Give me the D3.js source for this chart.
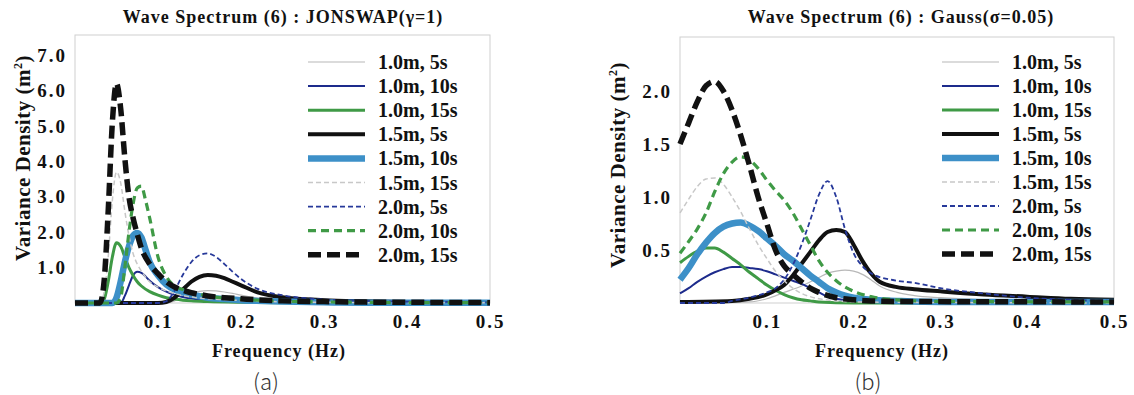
<!DOCTYPE html>
<html>
<head>
<meta charset="utf-8">
<script src="https://cdn.jsdelivr.net/npm/d3@7"></script>
<style>
  html, body { margin: 0; padding: 0; background: #fff; }
  svg { display: block; }
</style>
</head>
<body>
<svg id="chart" width="1134" height="395"></svg>
<script>
// Series labels (wave height, period)
const seriesLabels = ["1.0m, 5s", "1.0m, 10s", "1.0m, 15s", "1.5m, 5s", "1.5m, 10s",
                      "1.5m, 15s", "2.0m, 5s", "2.0m, 10s", "2.0m, 15s"];

// Panel titles and tick values
const titleA = "Wave Spectrum (6) : JONSWAP(\u03b3=1)";
const titleB = "Wave Spectrum (6) : Gauss(\u03c3=0.05)";
const xTicks = [0.1, 0.2, 0.3, 0.4, 0.5];
const yTicksA = [1.0, 2.0, 3.0, 4.0, 5.0, 6.0, 7.0];
const yTicksB = [0.5, 1.0, 1.5, 2.0];

// JONSWAP spectra: [frequency Hz, variance density m^2/Hz]
const jon_10_5  = [[0,0],[0.11,0],[0.12,0.06],[0.13,0.17],[0.14,0.27],[0.15,0.33],[0.16,0.35],[0.17,0.34],[0.18,0.31],[0.19,0.27],[0.2,0.22],[0.22,0.14],[0.25,0.07],[0.3,0.04],[0.35,0.02],[0.4,0.01],[0.5,0.01]];
const jon_10_10 = [[0,0],[0.055,0],[0.06,0.2],[0.065,0.5],[0.07,0.78],[0.075,0.88],[0.08,0.85],[0.085,0.75],[0.09,0.63],[0.1,0.45],[0.11,0.32],[0.12,0.23],[0.13,0.17],[0.14,0.13],[0.15,0.1],[0.16,0.08],[0.18,0.06],[0.2,0.04],[0.25,0.02],[0.3,0.01],[0.5,0.005]];
const jon_10_15 = [[0,0],[0.03,0],[0.035,0.1],[0.04,0.6],[0.045,1.3],[0.05,1.7],[0.055,1.6],[0.06,1.3],[0.065,1.0],[0.07,0.78],[0.075,0.6],[0.08,0.48],[0.09,0.32],[0.1,0.22],[0.11,0.15],[0.12,0.11],[0.13,0.08],[0.14,0.06],[0.16,0.04],[0.2,0.02],[0.25,0.01],[0.5,0]];
const jon_15_5  = [[0,0],[0.1,0],[0.11,0.03],[0.12,0.15],[0.13,0.38],[0.14,0.6],[0.15,0.74],[0.16,0.79],[0.17,0.77],[0.18,0.7],[0.19,0.6],[0.2,0.5],[0.22,0.3],[0.25,0.16],[0.3,0.08],[0.35,0.05],[0.4,0.03],[0.45,0.02],[0.5,0.01]];
const jon_15_10 = [[0,0],[0.045,0],[0.05,0.15],[0.055,0.6],[0.06,1.15],[0.065,1.6],[0.07,1.9],[0.075,1.98],[0.08,1.85],[0.085,1.5],[0.09,1.15],[0.1,0.78],[0.11,0.52],[0.12,0.38],[0.13,0.3],[0.14,0.24],[0.15,0.19],[0.16,0.15],[0.18,0.11],[0.2,0.08],[0.22,0.06],[0.25,0.04],[0.3,0.02],[0.35,0.01],[0.5,0.01]];
const jon_15_15 = [[0,0],[0.03,0],[0.035,0.3],[0.04,1.3],[0.045,2.9],[0.05,3.7],[0.055,3.4],[0.06,2.6],[0.065,1.9],[0.07,1.4],[0.075,1.1],[0.08,0.9],[0.09,0.6],[0.1,0.45],[0.11,0.34],[0.12,0.27],[0.13,0.21],[0.14,0.17],[0.15,0.14],[0.16,0.12],[0.18,0.09],[0.2,0.07],[0.22,0.05],[0.25,0.035],[0.3,0.02],[0.35,0.01],[0.5,0.01]];
const jon_20_5  = [[0,0],[0.1,0],[0.11,0.05],[0.12,0.35],[0.13,0.8],[0.14,1.15],[0.15,1.35],[0.16,1.4],[0.17,1.3],[0.18,1.1],[0.19,0.88],[0.2,0.68],[0.22,0.4],[0.25,0.22],[0.3,0.1],[0.35,0.06],[0.4,0.04],[0.45,0.03],[0.5,0.02]];
const jon_20_10 = [[0,0],[0.05,0],[0.055,0.15],[0.06,1.0],[0.065,2.0],[0.07,2.8],[0.075,3.25],[0.08,3.3],[0.085,2.9],[0.09,2.4],[0.1,1.3],[0.11,0.75],[0.12,0.48],[0.13,0.38],[0.14,0.3],[0.15,0.25],[0.16,0.2],[0.18,0.14],[0.2,0.1],[0.22,0.08],[0.25,0.05],[0.3,0.03],[0.35,0.02],[0.4,0.01],[0.5,0.01]];
const jon_20_15 = [[0,0],[0.03,0],[0.035,0.6],[0.04,2.6],[0.045,5.1],[0.05,6.2],[0.055,5.5],[0.06,4.1],[0.065,3.0],[0.07,2.4],[0.075,1.95],[0.08,1.55],[0.09,1.1],[0.1,0.83],[0.11,0.6],[0.12,0.45],[0.13,0.36],[0.14,0.29],[0.15,0.24],[0.16,0.2],[0.18,0.15],[0.2,0.12],[0.22,0.09],[0.25,0.06],[0.3,0.04],[0.35,0.025],[0.4,0.02],[0.5,0.01]];

// Gaussian spectra: [frequency Hz, variance density m^2/Hz]
const gau_10_5  = [[0,0],[0.08,0.01],[0.1,0.04],[0.12,0.1],[0.14,0.16],[0.16,0.24],[0.17,0.28],[0.18,0.3],[0.19,0.31],[0.2,0.3],[0.21,0.27],[0.22,0.22],[0.23,0.16],[0.25,0.1],[0.27,0.07],[0.3,0.05],[0.35,0.03],[0.4,0.02],[0.5,0.01]];
const gau_10_10 = [[0,0.09],[0.01,0.14],[0.02,0.2],[0.03,0.25],[0.04,0.29],[0.05,0.32],[0.06,0.34],[0.07,0.34],[0.08,0.33],[0.09,0.32],[0.1,0.3],[0.11,0.27],[0.12,0.24],[0.13,0.21],[0.14,0.18],[0.15,0.14],[0.16,0.1],[0.17,0.06],[0.18,0.04],[0.2,0.02],[0.22,0.01],[0.5,0]];
const gau_10_15 = [[0,0.38],[0.01,0.44],[0.02,0.49],[0.03,0.52],[0.04,0.52],[0.05,0.48],[0.06,0.42],[0.07,0.36],[0.08,0.29],[0.09,0.23],[0.1,0.17],[0.11,0.12],[0.12,0.08],[0.13,0.05],[0.14,0.03],[0.15,0.02],[0.16,0.01],[0.2,0],[0.5,0]];
const gau_15_5  = [[0,0.01],[0.06,0.02],[0.08,0.04],[0.1,0.08],[0.11,0.12],[0.12,0.17],[0.13,0.26],[0.14,0.37],[0.15,0.48],[0.16,0.59],[0.17,0.67],[0.18,0.69],[0.19,0.67],[0.2,0.55],[0.21,0.4],[0.22,0.28],[0.23,0.2],[0.25,0.15],[0.27,0.13],[0.3,0.11],[0.35,0.08],[0.4,0.06],[0.45,0.04],[0.5,0.03]];
const gau_15_10 = [[0,0.22],[0.01,0.33],[0.02,0.46],[0.03,0.57],[0.04,0.66],[0.05,0.72],[0.06,0.75],[0.07,0.76],[0.08,0.73],[0.09,0.68],[0.1,0.61],[0.11,0.54],[0.12,0.46],[0.13,0.4],[0.14,0.33],[0.15,0.26],[0.16,0.2],[0.17,0.14],[0.18,0.1],[0.19,0.07],[0.2,0.05],[0.22,0.03],[0.25,0.02],[0.3,0.01],[0.5,0.01]];
const gau_15_15 = [[0,0.85],[0.01,0.98],[0.02,1.1],[0.03,1.17],[0.04,1.18],[0.05,1.12],[0.06,1.0],[0.07,0.86],[0.08,0.7],[0.09,0.55],[0.1,0.42],[0.11,0.3],[0.12,0.21],[0.13,0.14],[0.14,0.09],[0.15,0.06],[0.16,0.04],[0.18,0.02],[0.2,0.01],[0.5,0]];
const gau_20_5  = [[0,0],[0.05,0],[0.06,0.02],[0.08,0.05],[0.1,0.1],[0.11,0.14],[0.12,0.22],[0.13,0.36],[0.14,0.55],[0.15,0.78],[0.16,1.02],[0.17,1.15],[0.18,1.0],[0.19,0.7],[0.2,0.47],[0.21,0.35],[0.22,0.28],[0.25,0.21],[0.27,0.19],[0.3,0.14],[0.35,0.09],[0.4,0.05],[0.45,0.03],[0.5,0.02]];
const gau_20_10 = [[0,0.47],[0.01,0.58],[0.02,0.7],[0.03,0.85],[0.04,1.05],[0.05,1.22],[0.06,1.33],[0.07,1.38],[0.08,1.35],[0.09,1.27],[0.1,1.16],[0.11,1.06],[0.12,0.97],[0.13,0.85],[0.14,0.7],[0.15,0.55],[0.16,0.4],[0.17,0.29],[0.18,0.21],[0.2,0.11],[0.22,0.06],[0.25,0.03],[0.3,0.015],[0.5,0.01]];
const gau_20_15 = [[0,1.5],[0.01,1.7],[0.02,1.9],[0.03,2.05],[0.04,2.09],[0.05,2.0],[0.06,1.82],[0.07,1.58],[0.08,1.3],[0.09,1.0],[0.1,0.75],[0.11,0.5],[0.12,0.35],[0.13,0.27],[0.14,0.2],[0.15,0.14],[0.16,0.1],[0.18,0.05],[0.2,0.03],[0.22,0.02],[0.25,0.015],[0.5,0.01]];

const jonswapSeries = [jon_10_5, jon_10_10, jon_10_15, jon_15_5, jon_15_10, jon_15_15, jon_20_5, jon_20_10, jon_20_15];
const gaussSeries   = [gau_10_5, gau_10_10, gau_10_15, gau_15_5, gau_15_10, gau_15_15, gau_20_5, gau_20_10, gau_20_15];

// Line style for each series, in legend order
const styles = [
  { color: "#b8b8b8", width: 1.2, dash: null },
  { color: "#1d2b8c", width: 2,   dash: null },
  { color: "#3f9a46", width: 3,   dash: null },
  { color: "#111111", width: 4,   dash: null },
  { color: "#3d90c8", width: 6.5, dash: null },
  { color: "#c8c8c8", width: 1.5, dash: "5,3" },
  { color: "#27399a", width: 1.8, dash: "5,3" },
  { color: "#3f9a46", width: 3.2, dash: "8,5" },
  { color: "#111111", width: 5.5, dash: "13,6" }
];

const SERIF = "'Liberation Serif', 'Times New Roman', 'DejaVu Serif', serif";

const svg = d3.select("#chart");

function serifText(sel, size, spacing) {
  return sel.attr("font-family", SERIF).attr("font-weight", "bold")
    .attr("font-size", size).attr("letter-spacing", spacing || 0).attr("fill", "#111");
}

function drawPanel(opt) {
  const g = svg.append("g");
  const x = d3.scaleLinear().domain([0, 0.5]).range([opt.x0, opt.x1]);
  const y = d3.scaleLinear().domain([0, opt.yMax]).range([opt.yBottom, opt.yTop]);

  // plot frame
  g.append("rect")
    .attr("x", opt.x0).attr("y", opt.yTop)
    .attr("width", opt.x1 - opt.x0).attr("height", opt.yBottom - opt.yTop)
    .attr("fill", "none").attr("stroke", "#cfcfcf").attr("stroke-width", 1);

  // x axis tick labels
  const xAxis = d3.axisBottom(x).tickValues(xTicks).tickFormat(d3.format(".1f")).tickSize(0).tickPadding(12);
  const gx = g.append("g").attr("transform", `translate(0,${opt.yBottom})`).call(xAxis);
  gx.select(".domain").remove();
  serifText(gx.selectAll("text"), 19, 2);

  // y axis tick labels
  const yAxis = d3.axisLeft(y).tickValues(opt.yTicks).tickFormat(d3.format(".1f")).tickSize(0).tickPadding(8);
  const gy = g.append("g").attr("transform", `translate(${opt.x0},0)`).call(yAxis);
  gy.select(".domain").remove();
  serifText(gy.selectAll("text"), 19, 2);

  // spectra
  const line = d3.line().x(d => x(d[0])).y(d => y(d[1])).curve(d3.curveMonotoneX);
  opt.series.forEach((s, i) => {
    const st = styles[i];
    g.append("path").datum(s)
      .attr("d", line)
      .attr("fill", "none")
      .attr("stroke", st.color)
      .attr("stroke-width", st.width)
      .attr("stroke-dasharray", st.dash)
      .attr("stroke-linejoin", "round");
  });

  // legend
  const lg = g.append("g");
  seriesLabels.forEach((lab, i) => {
    const st = styles[i];
    const ly = opt.legY + i * opt.legStep;
    lg.append("line")
      .attr("x1", opt.legX).attr("x2", opt.legX + 57)
      .attr("y1", ly).attr("y2", ly)
      .attr("stroke", st.color).attr("stroke-width", st.width)
      .attr("stroke-dasharray", st.dash);
    serifText(lg.append("text"), 20, 0)
      .attr("x", opt.legX + 70).attr("y", ly + 7)
      .text(lab);
  });

  // title
  serifText(g.append("text"), 18, 1)
    .attr("x", opt.titleX).attr("y", 23)
    .attr("text-anchor", "middle")
    .text(opt.title);

  // axis titles
  serifText(g.append("text"), 18, 1)
    .attr("x", opt.xLabelX).attr("y", 357)
    .attr("text-anchor", "middle")
    .text("Frequency (Hz)");

  const yl = serifText(g.append("text"), 21, 0.5)
    .attr("transform", `translate(${opt.yLabelX},${opt.yLabelY}) rotate(-90)`)
    .attr("text-anchor", "middle");
  yl.append("tspan").text("Variance Density (m");
  yl.append("tspan").attr("font-size", 12).attr("dy", -8).text("2");
  yl.append("tspan").attr("dy", 8).text(")");

  // panel tag
  g.append("text")
    .attr("x", opt.tagX).attr("y", 390)
    .attr("text-anchor", "middle")
    .attr("font-family", "'Noto Sans CJK KR', 'Noto Sans', sans-serif")
    .attr("font-weight", 300).attr("font-size", 22).attr("fill", "#333")
    .text(opt.tag);
}

drawPanel({
  series: jonswapSeries, title: titleA, tag: "(a)",
  x0: 75, x1: 490, yTop: 35, yBottom: 303, yMax: 7.57, yTicks: yTicksA,
  legX: 308, legY: 62, legStep: 24.1,
  titleX: 283, xLabelX: 279, yLabelX: 30, yLabelY: 158, tagX: 266
});

drawPanel({
  series: gaussSeries, title: titleB, tag: "(b)",
  x0: 680, x1: 1114, yTop: 37, yBottom: 303, yMax: 2.51, yTicks: yTicksB,
  legX: 942, legY: 62, legStep: 24.0,
  titleX: 901, xLabelX: 882, yLabelX: 625, yLabelY: 165, tagX: 868
});
</script>
</body>
</html>
